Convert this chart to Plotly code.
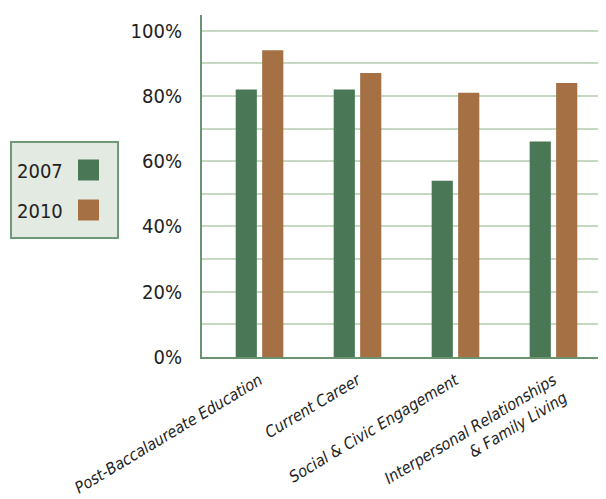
import plotly.graph_objects as go

years = ["2007", "2010"]
categories = ["Post-Baccalaureate Education", "Current Career",
              "Social & Civic Engagement",
              "Interpersonal Relationships<br>& Family Living"]
pct_2007 = [82, 82, 54, 66]
pct_2010 = [94, 87, 81, 84]
colors = ["#4a7856", "#a47044"]

FONT = "DejaVu Sans Condensed, Liberation Sans Narrow, Roboto, sans-serif"
# page body has an 8px margin, so the figure is 8px smaller and pixel spots are shifted by 8
OFF = 8
W, H = 606 - OFF, 499 - OFF
L, R, T, B = 202 - OFF, 0, 15 - OFF, 499 - 357


def px(x):
    return (x - OFF - L) / (W - L - R)


def py(y):
    return 1 - (y - OFF - T) / (H - T - B)


fig = go.Figure()
for name, vals, col in zip(years, [pct_2007, pct_2010], colors):
    fig.add_trace(go.Bar(x=categories, y=vals, name=name, marker=dict(color=col, line=dict(width=0))))

# legend box drawn by hand: label left, swatch right
shapes = [dict(type="rect", xref="paper", yref="paper", x0=px(11), x1=px(118), y0=py(142), y1=py(238),
               fillcolor="#e2eae2", line=dict(color="#6e9a78", width=2), layer="above")]
annotations = []
for i, (name, col) in enumerate(zip(years, colors)):
    yc = 170 + 40 * i
    shapes.append(dict(type="rect", xref="paper", yref="paper", x0=px(78), x1=px(99),
                       y0=py(yc - 10.5), y1=py(yc + 10.5), fillcolor=col, line=dict(width=0), layer="above"))
    annotations.append(dict(xref="paper", yref="paper", x=px(65), y=py(yc + 1), text=name, showarrow=False,
                            xanchor="right", yanchor="middle", font=dict(family=FONT, size=20, color="#222")))

fig.update_layout(
    width=W, height=H, barmode="group", bargap=0.46, bargroupgap=0.2,
    margin=dict(l=L, r=R, t=T, b=B), showlegend=False,
    paper_bgcolor="white", plot_bgcolor="white",
    font=dict(family=FONT, color="#222"),
    shapes=shapes, annotations=annotations,
    xaxis=dict(range=[-0.587, 3.536], showgrid=False, showline=True, linecolor="#6a9470", linewidth=2,
               tickangle=-31, tickfont=dict(family=FONT, size=16, style="italic", color="#222"),
               ticks="", ticklabelstandoff=6, automargin=False),
    yaxis=dict(range=[0, 104.8], tickvals=[0, 20, 40, 60, 80, 100],
               ticktext=["0%", "20%", "40%", "60%", "80%", "100%"],
               showgrid=True, gridcolor="#c5d9c2", gridwidth=1.5,
               minor=dict(dtick=10, showgrid=True, gridcolor="#c5d9c2", gridwidth=1.5),
               showline=True, linecolor="#6a9470", linewidth=2, zeroline=False,
               tickfont=dict(family=FONT, size=20, color="#222"), ticks="", ticklabelstandoff=14,
               automargin=False),
)

fig.write_html("out.html")
